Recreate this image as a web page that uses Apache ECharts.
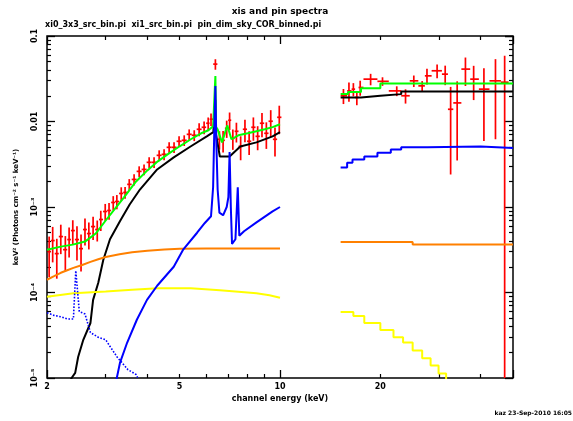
<!DOCTYPE html>
<html>
<head>
<meta charset="utf-8">
<script src="https://cdn.jsdelivr.net/npm/echarts@6/dist/echarts.min.js"></script>
<style>html,body{margin:0;background:#fff}#chart{width:573px;height:421px}</style>
</head>
<body>
<div id="chart"></div>
<script>
/* ── XIS data (keV, keV^2 ph/cm2/s/keV, 1-sigma) ── */
const xisE = [2.03,2.08,2.14,2.20,2.27,2.33,2.39,2.46,2.53,2.60,2.67,2.75,2.83,2.90,2.99,3.07,3.16,3.24,3.34,3.43,
  3.53,3.65,3.78,3.91,4.05,4.19,4.34,4.49,4.65,4.81,4.98,5.16,5.34,5.53,5.72,5.92,6.09,6.21,6.40,6.58,
  6.75,6.92,7.06,7.22,7.40,7.62,7.85,8.08,8.32,8.57,8.83,9.10,9.38,9.66,9.95];
const xisFlux = [3.01e-4,4.05e-4,2.85e-4,4.51e-4,3.17e-4,4.16e-4,5.30e-4,4.16e-4,3.26e-4,5.45e-4,
  4.89e-4,5.90e-4,5.45e-4,7.14e-4,8.86e-4,9.10e-4,1.13e-3,1.16e-3,1.44e-3,1.48e-3,
  1.84e-3,2.10e-3,2.61e-3,2.75e-3,3.33e-3,3.33e-3,4.02e-3,4.13e-3,4.99e-3,4.99e-3,
  5.87e-3,6.03e-3,7.08e-3,6.90e-3,8.11e-3,8.56e-3,9.54e-3,1.063e-2,4.69e-2,6.19e-3,
  6.03e-3,8.33e-3,1.034e-2,6.36e-3,7.68e-3,5.12e-3,8.11e-3,5.87e-3,8.56e-3,6.71e-3,
  9.54e-3,7.28e-3,1.007e-2,6.19e-3,1.12e-2];
const xisErr = [1.5e-4,1.8e-4,1.4e-4,1.7e-4,1.4e-4,1.6e-4,1.7e-4,1.8e-4,1.5e-4,1.9e-4,
  1.7e-4,1.8e-4,1.5e-4,1.9e-4,2.0e-4,2.0e-4,2.1e-4,2.2e-4,2.6e-4,2.3e-4,
  2.8e-4,3.1e-4,3.8e-4,4.0e-4,4.8e-4,4.8e-4,5.8e-4,6.0e-4,7.2e-4,7.2e-4,
  8.4e-4,8.6e-4,1.0e-3,1.0e-3,1.4e-3,1.45e-3,1.6e-3,1.8e-3,6.6e-3,1.5e-3,
  1.7e-3,1.9e-3,2.4e-3,1.7e-3,2.0e-3,1.6e-3,2.4e-3,1.8e-3,2.6e-3,2.1e-3,
  3.0e-3,2.5e-3,3.5e-3,2.3e-3,4.1e-3];

/* ── PIN data ── */
const pinLo = [15.2,15.9,16.4,16.8,17.2,17.8,19.6,21.2,23.1,24.5,26.0,27.2,28.5,30.6,31.9,33.1,35.0,37.2,39.5,42.5,46.0];
const pinHi = [15.9,16.4,16.8,17.2,17.8,19.6,21.2,23.1,24.5,26.0,27.2,28.5,30.6,31.9,33.1,35.0,37.2,39.5,42.5,46.0,48.5];
const pinE = [15.5,16.1,16.6,17.0,17.4,18.7,20.3,22.4,23.8,25.2,26.7,27.6,29.6,31.3,32.5,34.0,36.0,38.1,40.9,44.3,47.2];
const pinFlux = [0.0200,0.0228,0.0239,0.0191,0.0250,0.0313,0.0295,0.0228,0.0200,0.0299,0.0261,0.0342,0.0392,0.0358,0.0139,0.0165,0.0410,0.0313,0.0239,0.0299,0.0288];
const pinErr = [0.0040,0.0058,0.0042,0.0036,0.0050,0.0048,0.0034,0.0030,0.0038,0.0046,0.0036,0.0072,0.0071,0.0092,0.0115,0.0130,0.0150,0.0135,0.0180,0.0237,0.0300];

/* ── model curves, XIS band ── */
const totalE = [2.0,2.2,2.39,2.6,2.8,3.0,3.2,3.4,3.7,4.0,4.3,4.6,5.0,5.4,5.8,6.1,6.3,6.37,6.4,6.43,6.5,6.7,6.95,7.15,7.5,8.0,8.5,9.0,9.5,10.0];
const totalV = [3.17e-4,3.44e-4,3.63e-4,3.94e-4,4.89e-4,6.95e-4,9.6e-4,1.29e-3,1.99e-3,2.68e-3,3.42e-3,4.13e-3,5.13e-3,6.2e-3,7.28e-3,7.9e-3,8.8e-3,9.0e-3,3.4e-2,8.6e-3,8.1e-3,5.7e-3,9.0e-3,6.2e-3,6.9e-3,7.3e-3,7.7e-3,8.1e-3,8.6e-3,9.3e-3];
const absE = [2.31,2.37,2.43,2.48,2.57,2.70,2.75,2.85,2.95,3.09,3.31,3.54,3.80,4.28,4.80,5.39,6.03,6.31,6.37,6.40,6.43,6.60,7.06,7.60,8.50,9.50,10.0];
const absV = [8e-6,1.0e-5,1.15e-5,1.76e-5,2.8e-5,4.4e-5,8.2e-5,1.3e-4,2.4e-4,4.2e-4,6.8e-4,1.07e-3,1.6e-3,2.75e-3,3.8e-3,5.1e-3,6.7e-3,7.5e-3,7.6e-3,1.8e-2,7.0e-3,3.9e-3,3.9e-3,5.1e-3,5.7e-3,6.7e-3,7.5e-3];
const reflE = [3.20,3.31,3.48,3.72,3.99,4.28,4.80,5.13,5.64,5.95,6.21,6.30,6.36,6.40,6.44,6.50,6.58,6.75,6.92,7.00,7.06,7.12,7.18,7.35,7.47,7.55,7.80,8.50,9.50,10.0];
const reflV = [8e-6,1.5e-5,2.6e-5,4.8e-5,8.2e-5,1.2e-4,2.0e-4,3.2e-4,5.0e-4,6.5e-4,7.8e-4,1.7e-3,1.0e-2,2.6e-2,6.0e-3,1.6e-3,8.6e-4,8.0e-4,1.0e-3,1.3e-3,4.4e-3,1.0e-3,3.7e-4,4.2e-4,1.7e-3,4.6e-4,5.2e-4,6.6e-4,8.9e-4,1.0e-3];
const softE = [2.0,2.1,2.2,2.3,2.40,2.44,2.50,2.6,2.7,2.85,3.0,3.1,3.25,3.5,3.7,3.85];
const softV = [5.8e-5,5.4e-5,5.2e-5,4.9e-5,4.9e-5,1.8e-4,6.0e-5,5.6e-5,3.4e-5,3.0e-5,2.8e-5,2.3e-5,1.75e-5,1.25e-5,1.1e-5,8e-6];
const scatE = [2.0,2.1,2.2,2.3,2.4,2.55,2.7,2.85,3.0,3.3,3.6,4.0,4.5,5.0,6.0,7.0,8.0,10.0];
const scatV = [1.41e-4,1.55e-4,1.70e-4,1.82e-4,1.94e-4,2.1e-4,2.28e-4,2.45e-4,2.6e-4,2.8e-4,2.95e-4,3.08e-4,3.18e-4,3.24e-4,3.26e-4,3.26e-4,3.26e-4,3.26e-4];
const thermE = [2.0,2.4,3.0,3.6,4.3,5.4,6.6,7.5,8.5,9.3,10.0];
const thermV = [8.9e-5,9.8e-5,1.03e-4,1.08e-4,1.12e-4,1.12e-4,1.06e-4,1.02e-4,9.8e-5,9.3e-5,8.7e-5];

/* ── model curves, PIN band (bin left edges, last = right edge) ── */
const totalPinE = [15.2,16.0,17.5,20.0,50];
const totalPinV = [0.0210,0.0222,0.0245,0.0278,0.0278];
const absPinE = [15.2,17.5,20.0,23.1,50];
const absPinV = [0.0191,0.0200,0.0209,0.0224,0.0224];
const reflPinE = [15.2,15.9,16.5,17.9,19.6,21.5,23.1,27.7,40.0,50];
const reflPinV = [0.0029,0.0033,0.0036,0.0039,0.0043,0.0047,0.0050,0.0051,0.0049,0.0049];
const scatPinE = [15.2,25.0,50];
const scatPinV = [3.9e-4,3.65e-4,3.65e-4];
const thermPinE = [15.2,16.6,17.9,20.0,21.9,23.4,25.0,26.7,28.3,29.9,31.5];
const thermPinV = [5.9e-5,5.3e-5,4.4e-5,3.65e-5,3.0e-5,2.6e-5,2.1e-5,1.7e-5,1.4e-5,1.13e-5,9e-6];

/* ── axes ── */
const X_MIN = 2, X_MAX = 50, Y_MIN = 1e-5, Y_MAX = 0.1;
const xLabels = [2, 5, 10, 20];
const xMinor = [3, 4, 5, 6, 7, 8, 9, 20, 30, 40];
const yLabelText = ["10\u207b\u2075", "10\u207b\u2074", "10\u207b\u00b3", "0.01", "0.1"];
const mantissas = [2, 3, 4, 5, 6, 7, 8, 9];
const yMinor = [1e-5, 1e-4, 1e-3, 1e-2].flatMap((d) => mantissas.map((m) => m * d));

const titleLine1 = "xis and pin spectra";
const titleLine2 = "xi0_3x3_src_bin.pi  xi1_src_bin.pi  pin_dim_sky_COR_binned.pi";
const stamp = "kaz 23-Sep-2010 16:05";

const RED = "#ff0000", GREEN = "#00ff00", BLUE = "#0000ff", ORANGE = "#ff8000", YELLOW = "#ffff00";
const FONT = "DejaVu Sans";

const chart = echarts.init(document.getElementById("chart"));

/* ── renderers ── */
function renderErr(params, api) {
  const e = api.value(0), v = api.value(1), s = api.value(2), lo = api.value(3), hi = api.value(4);
  const cs = params.coordSys;
  const p = api.coord([e, v]);
  const top = api.coord([e, v + s])[1];
  const bot = v - s > 0 ? api.coord([e, v - s])[1] : cs.y + cs.height + 10;
  const x1 = api.coord([lo, v])[0], x2 = api.coord([hi, v])[0];
  return {
    type: "group",
    children: [
      { type: "line", shape: { x1: p[0], y1: top, x2: p[0], y2: bot }, style: { stroke: RED, lineWidth: 1.7 } },
      { type: "line", shape: { x1: x1, y1: p[1], x2: x2, y2: p[1] }, style: { stroke: RED, lineWidth: 1.7 } },
    ],
  };
}

function renderXLabel(params, api) {
  const p = api.coord([api.value(0), api.value(1)]);
  return {
    type: "text", x: p[0], y: p[1] + 5,
    style: { text: String(api.value(0)), fill: "#000", font: `bold 8px "${FONT}"`, align: "center", verticalAlign: "top" },
  };
}

/* ── series data ── */
const xisData = xisE.map((e, i) => {
  const prev = i > 0 ? xisE[i - 1] : e * e / xisE[i + 1];
  const next = i < xisE.length - 1 ? xisE[i + 1] : e * e / xisE[i - 1];
  return [e, xisFlux[i], xisErr[i], Math.sqrt(prev * e), Math.sqrt(e * next)];
});
const pinData = pinE.map((e, i) => [e, pinFlux[i], pinErr[i], pinLo[i], pinHi[i]]);
const labelData = xLabels.map((v) => [v, Y_MIN]);

const zip = (xs, ys) => xs.map((x, i) => [x, ys[i]]);

function model(name, xs, ys, color, opts = {}) {
  return {
    name, type: "line", data: zip(xs, ys), showSymbol: false, silent: true,
    step: opts.step || false, z: opts.z || 3,
    lineStyle: { color, width: opts.width || 2, type: opts.dash || "solid" },
  };
}

/* decade ticks come from the log axes; minor ticks from overlaid linear axes in log10 units */
const majorAxis = {
  type: "log", logBase: 10,
  axisLine: { show: false }, splitLine: { show: false },
  axisTick: { show: true, inside: true, length: 8, lineStyle: { color: "#000", width: 1.3 } },
};
const minorAxis = (min, max, values, position) => ({
  type: "value", min: Math.log10(min), max: Math.log10(max), position,
  axisLine: { show: false }, splitLine: { show: false }, axisLabel: { show: false },
  axisTick: { show: true, inside: true, length: 4, customValues: values.map(Math.log10), lineStyle: { color: "#000", width: 1.2 } },
});

chart.setOption({
  animation: false,
  grid: { left: 47, right: 60, top: 36, bottom: 43, show: true, borderColor: "#000", borderWidth: 1.5 },
  xAxis: [
    {
      ...majorAxis, min: X_MIN, max: X_MAX, position: "bottom", axisLabel: { show: false },
      name: "channel energy (keV)", nameLocation: "middle", nameGap: 17,
      nameTextStyle: { fontFamily: FONT, fontSize: 8, fontWeight: "bold", color: "#000" },
    },
    { ...majorAxis, min: X_MIN, max: X_MAX, position: "top", axisLabel: { show: false } },
    minorAxis(X_MIN, X_MAX, xMinor, "bottom"),
    minorAxis(X_MIN, X_MAX, xMinor, "top"),
  ],
  yAxis: [
    {
      ...majorAxis, min: Y_MIN, max: Y_MAX, position: "left",
      axisLabel: {
        rotate: 90, margin: 8, fontFamily: FONT, fontSize: 8, fontWeight: "bold", color: "#000",
        formatter: (v) => yLabelText[Math.round(Math.log10(v)) + 5] || "",
      },
      name: "keV\u00b2 (Photons cm\u207b\u00b2 s\u207b\u00b9 keV\u207b\u00b9)", nameLocation: "middle", nameGap: 27,
      nameTextStyle: { fontFamily: FONT, fontSize: 7, fontWeight: "bold", color: "#000" },
    },
    { ...majorAxis, min: Y_MIN, max: Y_MAX, position: "right", axisLabel: { show: false } },
    minorAxis(Y_MIN, Y_MAX, yMinor, "left"),
    minorAxis(Y_MIN, Y_MAX, yMinor, "right"),
  ],
  graphic: [
    { type: "text", x: 280, y: 12, style: { text: titleLine1, fill: "#000", font: `bold 9px "${FONT}"`, align: "center", verticalAlign: "middle" } },
    { type: "text", x: 45, y: 25, style: { text: titleLine2, fill: "#000", font: `bold 8px "${FONT}"`, align: "left", verticalAlign: "middle" } },
    { type: "text", x: 572, y: 413, style: { text: stamp, fill: "#000", font: `bold 6px "${FONT}"`, align: "right", verticalAlign: "middle" } },
  ],
  series: [
    { name: "xis", type: "custom", renderItem: renderErr, data: xisData, encode: { x: 0, y: 1 }, clip: true, silent: true, z: 2 },
    { name: "pin", type: "custom", renderItem: renderErr, data: pinData, encode: { x: 0, y: 1 }, clip: true, silent: true, z: 2 },
    model("abs", absE, absV, "#000"),
    model("absPin", absPinE, absPinV, "#000", { step: "end" }),
    model("total", totalE, totalV, GREEN, { z: 4 }),
    model("totalPin", totalPinE, totalPinV, GREEN, { step: "end", z: 4 }),
    model("scat", scatE, scatV, ORANGE),
    model("scatPin", scatPinE, scatPinV, ORANGE, { step: "end" }),
    model("therm", thermE, thermV, YELLOW),
    model("thermPin", thermPinE, thermPinV, YELLOW, { step: "end" }),
    model("refl", reflE, reflV, BLUE, { z: 5 }),
    model("reflPin", reflPinE, reflPinV, BLUE, { step: "end", z: 5 }),
    model("soft", softE, softV, BLUE, { dash: "dotted", width: 1.6 }),
    { name: "xlabels", type: "custom", renderItem: renderXLabel, data: labelData, encode: { x: 0, y: 1 }, clip: false, silent: true, z: 10 },
  ],
});
</script>
</body>
</html>
